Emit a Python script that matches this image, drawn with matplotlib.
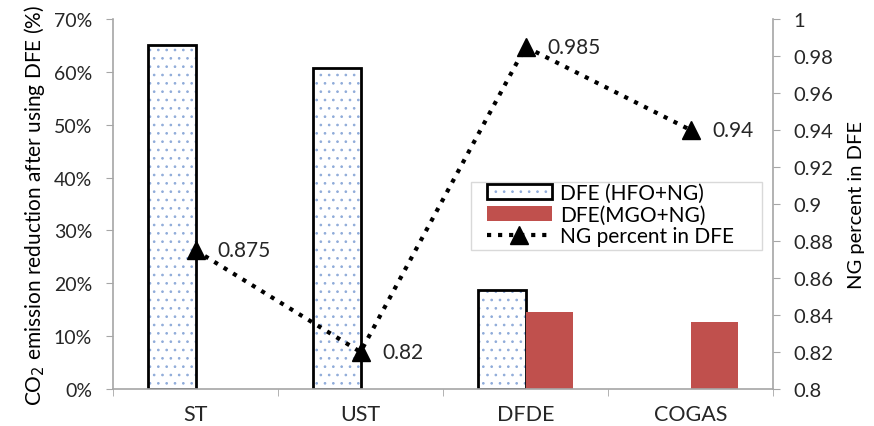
import numpy as np
import matplotlib.pyplot as plt
from matplotlib.patches import Patch, Rectangle
from matplotlib.lines import Line2D

plt.rcParams['font.family'] = ['Lato', 'DejaVu Sans']
plt.rcParams['hatch.linewidth'] = 0.7

# data
categories = ['ST', 'UST', 'DFDE', 'COGAS']
hfo_ng = [65.0, 60.7, 18.8, np.nan]
mgo_ng = [np.nan, np.nan, 14.6, 12.6]
ng_percent = [0.875, 0.82, 0.985, 0.94]
ng_labels = ['0.875', '0.82', '0.985', '0.94']

x = np.arange(len(categories))
w = 0.285
grey = '#a6a6a6'
txt = '#262626'
red = '#c0504d'
dots = '#8fabd9'

fig = plt.figure(figsize=(8.74, 4.27), dpi=100)
ax = fig.add_axes([113/874, 37/427, 660/874, 370/427])

# dotted fill then black outline for the HFO bars
ax.bar(x - w/2, hfo_ng, w, color='white', hatch='..', edgecolor=dots, linewidth=0)
ax.bar(x - w/2, hfo_ng, w, fill=False, edgecolor='black', linewidth=2)
ax.bar(x + w/2, mgo_ng, w, color=red, linewidth=0)

ax.set_xlim(-0.5, 3.5)
ax.set_ylim(0, 70)
ax.set_yticks(np.arange(0, 71, 10))
ax.set_yticklabels([f'{v}%' for v in range(0, 71, 10)])
ax.set_xticks(x)
ax.set_xticklabels(categories)
ax.set_xticks(np.arange(-0.5, 3.6, 1), minor=True)
ax.tick_params(axis='x', which='major', length=0, pad=11, labelsize=15.5)
ax.tick_params(axis='x', which='minor', length=5, color=grey, direction='out')
ax.tick_params(axis='y', length=5, color=grey, direction='out', pad=10, labelsize=14)
ax.tick_params(labelcolor=txt)
for s in ['top', 'right']:
    ax.spines[s].set_visible(False)
for s in ['left', 'bottom']:
    ax.spines[s].set_color(grey)
    ax.spines[s].set_linewidth(1.2)
ax.set_ylabel('CO$_2$ emission reduction after using DFE (%)', fontsize=15, color='black', labelpad=5)

ax2 = ax.twinx()
ax2.plot(x, ng_percent, linestyle=':', color='black', linewidth=3,
         marker='^', markersize=13, markerfacecolor='black')
for xi, yi, lab in zip(x, ng_percent, ng_labels):
    ax2.annotate(lab, (xi, yi), xytext=(16, 0), textcoords='offset points',
                 va='center', ha='left', fontsize=15, color=txt)
ax2.set_ylim(0.8, 1.0)
ax2.set_yticks(np.arange(0.8, 1.001, 0.02))
ax2.set_yticklabels(['0.8', '0.82', '0.84', '0.86', '0.88', '0.9', '0.92', '0.94', '0.96', '0.98', '1'])
ax2.tick_params(axis='y', length=5, color=grey, direction='out', labelsize=14.5, labelcolor=txt, pad=10)
for s in ['top', 'left', 'bottom']:
    ax2.spines[s].set_visible(False)
ax2.spines['right'].set_color(grey)
ax2.spines['right'].set_linewidth(1.2)
ax2.set_ylabel('NG percent in DFE', fontsize=14.5, color='black', labelpad=10)

# legend with its own frame (drawn under the legend entries)
frame = Rectangle((471/874, 1 - 251/427), 291/874, 68/427, transform=fig.transFigure,
                  facecolor='white', edgecolor='#d9d9d9', linewidth=1, zorder=4, clip_on=False)
ax2.add_artist(frame)
h1a = Patch(facecolor='white', edgecolor=dots, hatch='..', linewidth=0)
h1b = Patch(facecolor='none', edgecolor='black', linewidth=2)
h2 = Patch(facecolor=red, edgecolor='none')
h3 = Line2D([], [], linestyle=':', color='black', linewidth=3, marker='^', markersize=13)
leg = ax2.legend([(h1a, h1b), h2, h3], ['DFE (HFO+NG)', 'DFE(MGO+NG)', 'NG percent in DFE'],
                 loc='upper left', bbox_to_anchor=(487/874, 1 - 184/427), bbox_transform=fig.transFigure,
                 fontsize=15, frameon=False, handlelength=3.1,
                 borderpad=0, labelspacing=0.08, handletextpad=0.4, borderaxespad=0)
leg.set_zorder(6)

fig.savefig('out.png', dpi=100)
